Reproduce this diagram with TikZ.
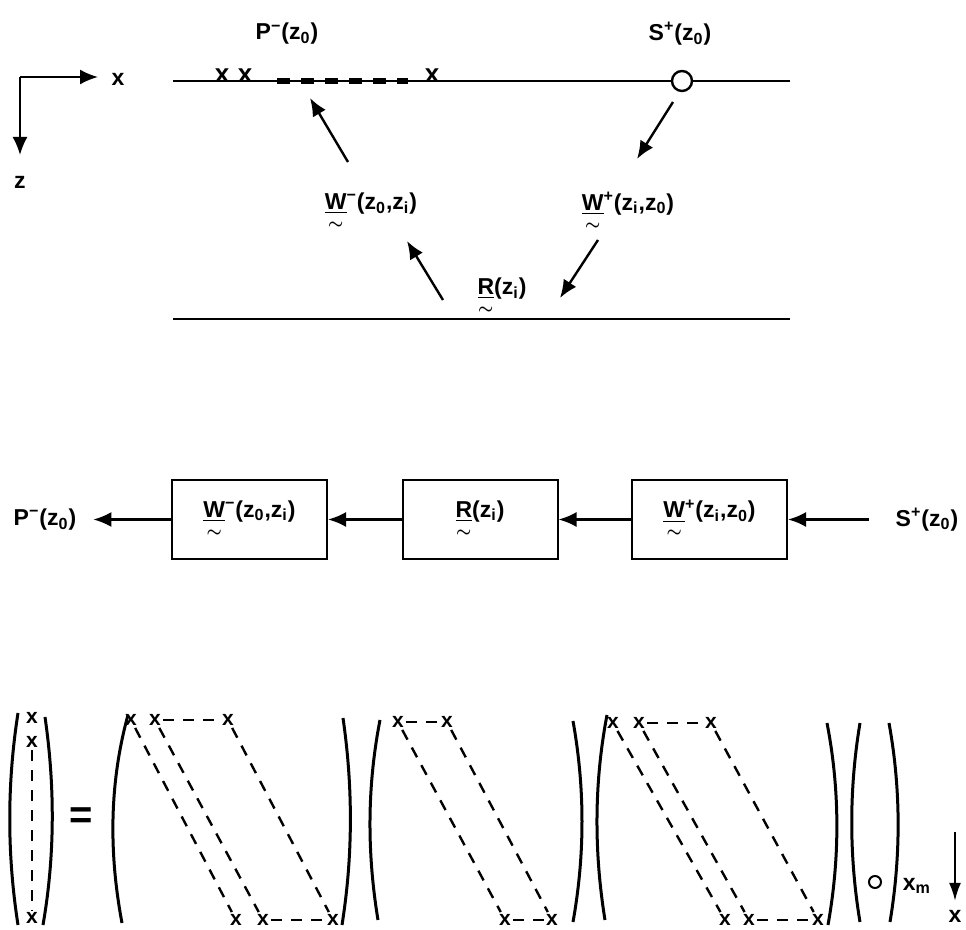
\documentclass[tikz,border=0pt]{standalone}
\usepackage{amsmath}
\usepackage{fontspec}
\setmainfont{Liberation Sans}
\usetikzlibrary{arrows.meta}
\newcommand{\mtx}[1]{$\underset{\boldsymbol{\sim}}{\underline{\text{#1}}}$}
\newcommand{\lblfont}{\fontsize{11.5}{13}\selectfont\bfseries}

\begin{document}
\begin{tikzpicture}[x=0.5pt,y=-0.5pt,
  every node/.style={font=\lblfont},
  arr/.style={line width=1.2pt,-{Latex[length=9pt,width=7.5pt]}},
  box/.style={draw,line width=1pt,minimum width=77.5pt,minimum height=39.5pt},
  xm/.style={inner sep=1pt,font=\fontsize{10.5}{11}\selectfont\bfseries},
  bigxm/.style={inner sep=1pt,font=\fontsize{13}{13}\selectfont\bfseries},
  dsh/.style={line width=1.2pt,dash pattern=on 5.5pt off 4.5pt},
  brk/.style={line width=1.5pt}]
\useasboundingbox (0,0) rectangle (966,930);

% axes
\coordinate (ax) at (20,77);
\coordinate (axx) at (98,77);
\coordinate (axz) at (20,155);
\draw[arr,line width=1pt] (ax) -- (axx);
\draw[arr,line width=1pt] (ax) -- (axz);
\node (xl) at (118,79) {x};
\node (zl) at (20,182) {z};

% surface and reflector
\coordinate (topL) at (173,81);
\coordinate (topR) at (790,81);
\coordinate (botL) at (173,319);
\coordinate (botR) at (790,319);
\draw[line width=1.2pt] (topL) -- (topR);
\draw[line width=1.2pt] (botL) -- (botR);
\node[bigxm] (p1) at (222,76) {x};
\node[bigxm] (p2) at (245,76) {x};
\node[bigxm] (p3) at (432,76) {x};
\coordinate (dashL) at (277,81);
\coordinate (dashR) at (408,81);
\draw[line width=2.6pt,dash pattern=on 6.5pt off 5.5pt] (dashL) -- (dashR);
\node[circle,draw,fill=white,line width=1.2pt,minimum size=10pt,inner sep=0pt] (src) at (682,81) {};

\node (ptop) at (287,34) {P\textsuperscript{−}(z\textsubscript{0})};
\node (stop) at (680,34) {S\textsuperscript{+}(z\textsubscript{0})};
\node (wml) at (371,212) {\mtx{W}\textsuperscript{−}(z\textsubscript{0},z\textsubscript{i})};
\node (wpl) at (628,212) {\mtx{W}\textsuperscript{+}(z\textsubscript{i},z\textsubscript{0})};
\node (rl) at (502,297) {\mtx{R}(z\textsubscript{i})};

\coordinate (a1s) at (348,162);
\coordinate (a1e) at (310,98);
\coordinate (a2s) at (673,102);
\coordinate (a2e) at (637,159);
\coordinate (a3s) at (443,300);
\coordinate (a3e) at (407,241);
\coordinate (a4s) at (598,240);
\coordinate (a4e) at (560,298);
\draw[arr] (a1s) -- (a1e);
\draw[arr] (a2s) -- (a2e);
\draw[arr] (a3s) -- (a3e);
\draw[arr] (a4s) -- (a4e);

% block diagram
\node (pm) at (45,519.5) {P\textsuperscript{−}(z\textsubscript{0})};
\node[box] (wm) at (249.5,519.5) {\mtx{W}\textsuperscript{−}(z\textsubscript{0},z\textsubscript{i})};
\node[box] (rr) at (480,519.5) {\mtx{R}(z\textsubscript{i})};
\node[box] (wp) at (709.5,519.5) {\mtx{W}\textsuperscript{+}(z\textsubscript{i},z\textsubscript{0})};
\node (sp) at (927,519.5) {S\textsuperscript{+}(z\textsubscript{0})};
\draw[arr,shorten <=10pt] (sp) -- (wp);
\draw[arr] (wp) -- (rr);
\draw[arr] (rr) -- (wm);
\draw[arr,shorten >=5pt] (wm) -- (pm);

% matrix form
\draw[brk] (18,713) .. controls (7,784) and (7,854) .. (18,925);
\draw[brk] (45,717) .. controls (55,786) and (55,856) .. (43,925);
\node[xm] (v1) at (32,718) {x};
\node[xm] (v2) at (32,742) {x};
\node[xm] (v3) at (32,918) {x};
\draw[dsh] (v2) -- (v3);

\node (eq) at (81,818) {\fontsize{20}{20}\selectfont =};

\draw[brk] (128,715) .. controls (109,784) and (109,854) .. (122,923);
\draw[brk] (343,718) .. controls (353,787) and (353,856) .. (342,925);
\node[xm] (wa1) at (131,720) {x};
\node[xm] (wa2) at (155,720) {x};
\node[xm] (wa3) at (228,720) {x};
\node[xm] (wa4) at (236,920) {x};
\node[xm] (wa5) at (263,920) {x};
\node[xm] (wa6) at (333,920) {x};
\draw[dsh] (wa2) -- (wa3);
\draw[dsh] (wa5) -- (wa6);
\draw[dsh] (wa1) -- (wa4);
\draw[dsh] (wa2) -- (wa5);
\draw[dsh] (wa3) -- (wa6);

\draw[brk] (380,720) .. controls (367,787) and (367,853) .. (378,920);
\draw[brk] (573,721) .. controls (585,788) and (585,855) .. (573,922);
\node[xm] (ra1) at (398,722) {x};
\node[xm] (ra2) at (447,722) {x};
\node[xm] (ra3) at (505,920) {x};
\node[xm] (ra4) at (552,920) {x};
\draw[dsh] (ra1) -- (ra2);
\draw[dsh] (ra3) -- (ra4);
\draw[dsh] (ra1) -- (ra3);
\draw[dsh] (ra2) -- (ra4);

\draw[brk] (607,715) .. controls (594,783) and (594,852) .. (605,920);
\draw[brk] (827,723) .. controls (840,790) and (840,858) .. (828,925);
\node[xm] (wb1) at (613,723) {x};
\node[xm] (wb2) at (639,723) {x};
\node[xm] (wb3) at (711,723) {x};
\node[xm] (wb4) at (725,920) {x};
\node[xm] (wb5) at (749,920) {x};
\node[xm] (wb6) at (818,920) {x};
\draw[dsh] (wb2) -- (wb3);
\draw[dsh] (wb5) -- (wb6);
\draw[dsh] (wb1) -- (wb4);
\draw[dsh] (wb2) -- (wb5);
\draw[dsh] (wb3) -- (wb6);

\draw[brk] (860,723) .. controls (849,789) and (849,856) .. (860,922);
\draw[brk] (889,723) .. controls (901,789) and (901,856) .. (890,922);
\node[circle,draw,line width=1pt,minimum size=6pt,inner sep=0pt] (sv) at (875,882) {};
\node (xmlbl) at (917,886) {x\textsubscript{m}};

\coordinate (xtop) at (955,832);
\node (xdir) at (955,916) {x};
\draw[line width=1pt,-{Latex[length=9pt,width=6pt]},shorten >=1pt] (xtop) -- (xdir.north);
\end{tikzpicture}
\end{document}
